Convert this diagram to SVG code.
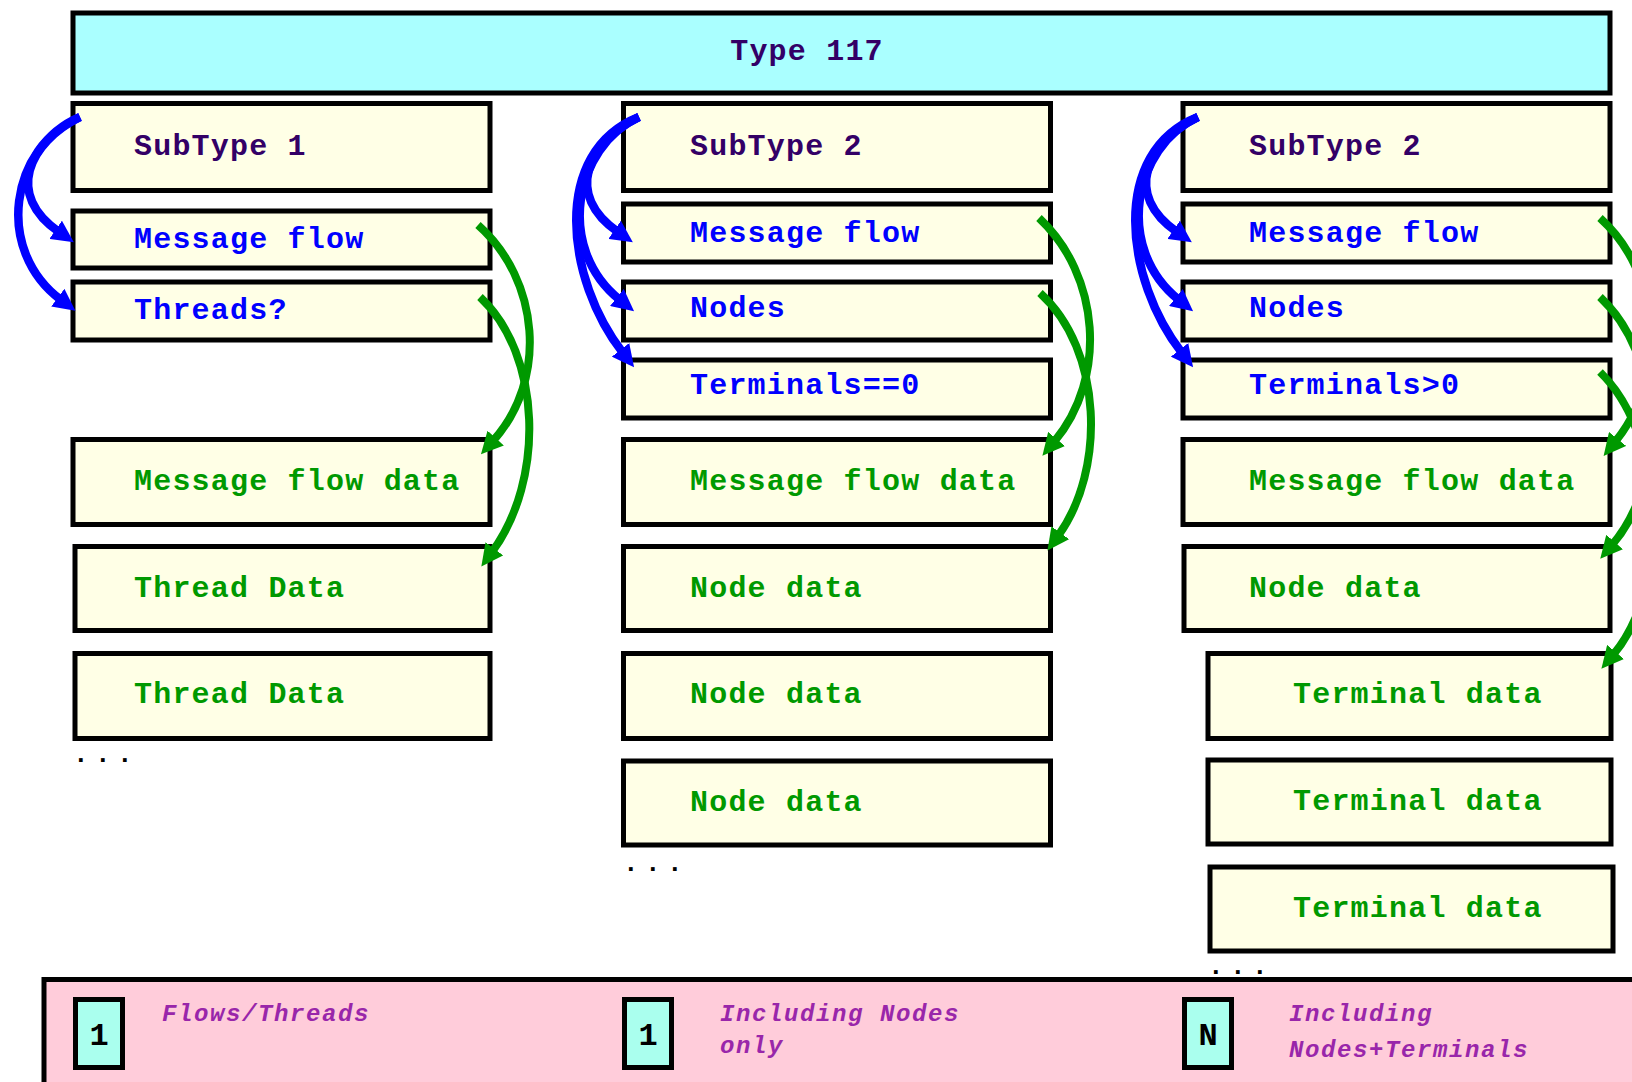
<svg xmlns="http://www.w3.org/2000/svg" width="1632" height="1082" viewBox="0 0 1632 1082">
<defs>
<style>
.box{fill:#FFFFE6;stroke:#000;stroke-width:5}
.top{fill:#AAFFFF;stroke:#000;stroke-width:5}
.t{font-family:"Liberation Mono","Courier New",monospace;font-weight:bold;font-size:30px;letter-spacing:1.2px}
.st{fill:#330066}
.bl{fill:#0000FF}
.gr{fill:#009900}
.dots{font-family:"Liberation Mono",monospace;font-weight:bold;font-size:26px;letter-spacing:6.4px;fill:#000}
.blue{fill:none;stroke:#0000FF;stroke-width:8.5;marker-end:url(#ab)}
.green{fill:none;stroke:#009900;stroke-width:8;marker-end:url(#ag)}
.leg{fill:#FFCCDA;stroke:#000;stroke-width:5}
.badge{fill:#AAFFEE;stroke:#000;stroke-width:5}
.bt{font-family:"Liberation Mono",monospace;font-weight:bold;font-size:32px;fill:#000;text-anchor:middle}
.lt{font-family:"Liberation Mono","Courier New",monospace;font-weight:bold;font-style:italic;font-size:24px;letter-spacing:1.6px;fill:#9926AA}
</style>
<marker id="ab" viewBox="0 0 22 22" markerWidth="22" markerHeight="22" markerUnits="userSpaceOnUse" refX="4" refY="11" orient="auto"><path d="M0,0 L22,11 L0,22 Z" fill="#0000FF"/></marker>
<marker id="ag" viewBox="0 0 22 22" markerWidth="22" markerHeight="22" markerUnits="userSpaceOnUse" refX="4" refY="11" orient="auto"><path d="M0,0 L22,11 L0,22 Z" fill="#009900"/></marker>
</defs>
<rect width="1632" height="1082" fill="#fff"/>

<g id="type117"><rect class="top" x="73" y="13" width="1537" height="80"/><text class="t st" x="807" y="60" text-anchor="middle">Type 117</text></g>

<g id="c1-subtype"><rect class="box" x="73" y="103.5" width="417" height="87"/><text class="t st" x="134" y="155">SubType 1</text></g>
<g id="c1-msgflow"><rect class="box" x="73" y="211" width="417" height="57"/><text class="t bl" x="134" y="248">Message flow</text></g>
<g id="c1-threads"><rect class="box" x="73" y="282" width="417" height="58"/><text class="t bl" x="134" y="319">Threads?</text></g>
<g id="c1-mfdata"><rect class="box" x="73" y="439.5" width="417" height="85"/><text class="t gr" x="134" y="490">Message flow data</text></g>
<g id="c1-thread1"><rect class="box" x="75" y="546.5" width="415" height="84"/><text class="t gr" x="134" y="597">Thread Data</text></g>
<g id="c1-thread2"><rect class="box" x="75" y="653.5" width="415" height="85"/><text class="t gr" x="134" y="703">Thread Data</text></g>
<text class="dots" x="73" y="762">...</text>

<g id="c2-subtype"><rect class="box" x="623.5" y="103.5" width="427" height="87"/><text class="t st" x="690" y="155">SubType 2</text></g>
<g id="c2-msgflow"><rect class="box" x="623.5" y="204" width="427" height="58"/><text class="t bl" x="690" y="241.5">Message flow</text></g>
<g id="c2-nodes"><rect class="box" x="623.5" y="282" width="427" height="58"/><text class="t bl" x="690" y="317">Nodes</text></g>
<g id="c2-terms"><rect class="box" x="623.5" y="360" width="427" height="58"/><text class="t bl" x="690" y="394">Terminals==0</text></g>
<g id="c2-mfdata"><rect class="box" x="623.5" y="439.5" width="427" height="85"/><text class="t gr" x="690" y="490">Message flow data</text></g>
<g id="c2-node1"><rect class="box" x="623.5" y="546.5" width="427" height="84"/><text class="t gr" x="690" y="597">Node data</text></g>
<g id="c2-node2"><rect class="box" x="623.5" y="653.5" width="427" height="85"/><text class="t gr" x="690" y="703">Node data</text></g>
<g id="c2-node3"><rect class="box" x="623.5" y="761" width="427" height="84"/><text class="t gr" x="690" y="811">Node data</text></g>
<text class="dots" x="623" y="871">...</text>

<g id="c3-subtype"><rect class="box" x="1183" y="103.5" width="427" height="87"/><text class="t st" x="1249" y="155">SubType 2</text></g>
<g id="c3-msgflow"><rect class="box" x="1183" y="204" width="427" height="58"/><text class="t bl" x="1249" y="241.5">Message flow</text></g>
<g id="c3-nodes"><rect class="box" x="1183" y="282" width="427" height="58"/><text class="t bl" x="1249" y="317">Nodes</text></g>
<g id="c3-terms"><rect class="box" x="1183" y="360" width="427" height="58"/><text class="t bl" x="1249" y="394">Terminals&gt;0</text></g>
<g id="c3-mfdata"><rect class="box" x="1183" y="439.5" width="427" height="85"/><text class="t gr" x="1249" y="490">Message flow data</text></g>
<g id="c3-node1"><rect class="box" x="1184" y="546.5" width="426" height="84"/><text class="t gr" x="1249" y="597">Node data</text></g>
<g id="c3-term1"><rect class="box" x="1208" y="653.5" width="403" height="85"/><text class="t gr" x="1293" y="703">Terminal data</text></g>
<g id="c3-term2"><rect class="box" x="1208" y="760" width="403" height="84"/><text class="t gr" x="1293" y="810">Terminal data</text></g>
<g id="c3-term3"><rect class="box" x="1210" y="867" width="403" height="84"/><text class="t gr" x="1293" y="917">Terminal data</text></g>
<text class="dots" x="1208" y="974">...</text>

<g id="connectors">
<path class="blue" d="M80,117 C28,143 5,195 59,232"/>
<path class="blue" d="M80,117 C10,147 -6,250 61,300"/>
<path class="blue" d="M639,117 C587,143 564,195 618,232"/>
<path class="blue" d="M639,117 C574,147 555,248 620,300"/>
<path class="blue" d="M639,117 C550,152 566,280 623,353"/>
<path class="blue" d="M1198,117 C1146,143 1123,195 1177,232"/>
<path class="blue" d="M1198,117 C1133,147 1114,248 1179,300"/>
<path class="blue" d="M1198,117 C1109,152 1125,280 1182,353"/>
<path class="green" d="M478,225 C540,280 548,380 493,441"/>
<path class="green" d="M480,297 C542,355 545,480 492,552"/>
<path class="green" d="M1039,218 C1100,275 1108,378 1054,442"/>
<path class="green" d="M1040,293 C1103,350 1106,470 1058,536"/>
<path class="green" d="M1600,218 C1661,273 1669,376 1615,442"/>
<path class="green" d="M1600,297 C1663,356 1668,480 1612,545"/>
<path class="green" d="M1600,372 C1665,435 1672,585 1613,655"/>
</g>

<g id="legend">
<rect class="leg" x="44" y="979.5" width="1600" height="120"/>
<g id="badge1"><rect class="badge" x="75.5" y="999.5" width="47" height="68"/><text class="bt" x="99" y="1045">1</text></g>
<text class="lt" x="162" y="1021">Flows/Threads</text>
<g id="badge2"><rect class="badge" x="624.5" y="999.5" width="47" height="68"/><text class="bt" x="648" y="1045">1</text></g>
<text class="lt" x="720" y="1021">Including Nodes</text>
<text class="lt" x="720" y="1053">only</text>
<g id="badge3"><rect class="badge" x="1184.5" y="999.5" width="47" height="68"/><text class="bt" x="1208" y="1045">N</text></g>
<text class="lt" x="1289" y="1021">Including</text>
<text class="lt" x="1289" y="1057">Nodes+Terminals</text>
</g>
</svg>
